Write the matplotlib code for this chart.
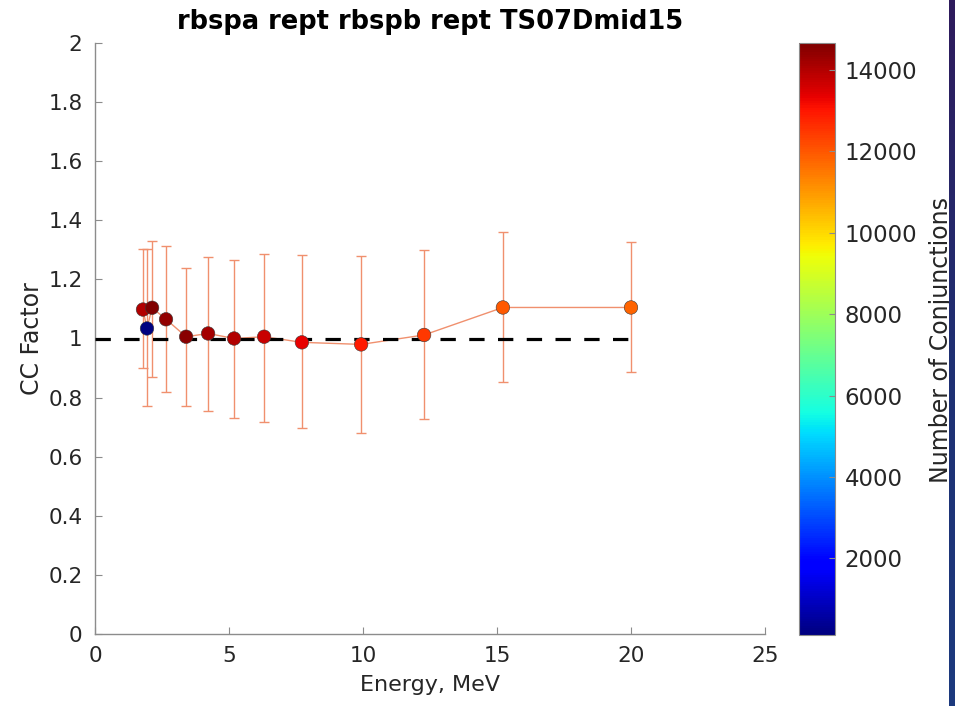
import numpy as np
import matplotlib
matplotlib.use("Agg")
import matplotlib.pyplot as plt
from matplotlib.colors import Normalize, LinearSegmentedColormap

# energies (MeV), cross-calibration factor, error bar limits, conjunction counts
energy = [1.79, 1.94, 2.13, 2.65, 3.40, 4.22, 5.19, 6.31, 7.72, 9.93, 12.28, 15.22, 20.0]
cc_factor = [1.098, 1.034, 1.104, 1.065, 1.006, 1.017, 1.000, 1.006, 0.987, 0.980, 1.012, 1.105, 1.105]
err_hi = [1.302, 1.302, 1.330, 1.314, 1.238, 1.276, 1.265, 1.285, 1.282, 1.280, 1.300, 1.360, 1.325]
err_lo = [0.900, 0.770, 0.871, 0.820, 0.772, 0.755, 0.731, 0.717, 0.697, 0.681, 0.728, 0.854, 0.887]
n_conj = [14000, 120, 14660, 14400, 14500, 14200, 14000, 13700, 13300, 12900, 12450, 11950, 11800]

title = "rbspa rept rbspb rept TS07Dmid15"

################################################################################

tick_col = "#262626"
spine_col = "#8c8c8c"
err_col = "#f0906e"

plt.rcParams["font.family"] = "DejaVu Sans"
fig = plt.figure(figsize=(9.55, 7.06), dpi=100)
ax = fig.add_axes([95/955, 72/706, 670/955, 591/706])

x = np.array(energy)
y = np.array(cc_factor)
yerr = [y - np.array(err_lo), np.array(err_hi) - y]

ax.errorbar(x, y, yerr=yerr, color=err_col, lw=1.0, elinewidth=1.0,
            capsize=3.5, capthick=1.0, zorder=2)
ax.plot([0, 20], [1, 1], color="black", lw=2.3, dashes=(4.8, 4.2), zorder=3)

norm = Normalize(vmin=120, vmax=14660)
sc = ax.scatter(x, y, c=n_conj, cmap="jet", norm=norm, s=95,
                edgecolors="#3a3a3a", linewidths=0.4, zorder=4)

ax.set_xlim(0, 25)
ax.set_ylim(0, 2)
ax.set_xticks(range(0, 26, 5))
yt = np.round(np.arange(0, 2.01, 0.2), 1)
ax.set_yticks(yt)
ax.set_yticklabels([("%g" % v) for v in yt])
for s in ["top", "right"]:
    ax.spines[s].set_visible(False)
for s in ["left", "bottom"]:
    ax.spines[s].set_color(spine_col)
    ax.spines[s].set_linewidth(1.0)
ax.tick_params(direction="in", length=5, color=spine_col, labelcolor=tick_col,
               labelsize=15.5, pad=9)
ax.set_xlabel("Energy, MeV", fontsize=16, color=tick_col, labelpad=6)
ax.set_ylabel("CC Factor", fontsize=17, color=tick_col, labelpad=3)
ax.set_title(title, fontsize=18.5, fontweight="bold", pad=10)

cax = fig.add_axes([799/955, 71/706, 36/955, 592/706])
cb = fig.colorbar(sc, cax=cax)
cb.set_ticks(range(2000, 14001, 2000))
cb.outline.set_edgecolor(spine_col)
cax.tick_params(direction="in", length=4, color=spine_col, labelcolor=tick_col,
                labelsize=16.5, pad=7)

fig.text(941/955, (706 - 340)/706, "Number of Conjunctions", rotation=90,
         ha="center", va="center", fontsize=17, color=tick_col)

# dark slide background strip on the right edge
sax = fig.add_axes([949/955, 0, 6/955, 1], zorder=10)
grad = np.linspace(0, 1, 256).reshape(-1, 1)
strip = LinearSegmentedColormap.from_list("strip", ["#2f1b5c", "#1f2f72", "#1c3a7e"])
sax.imshow(grad, aspect="auto", cmap=strip, extent=[0, 1, 0, 1], origin="upper")
sax.axis("off")

fig.savefig("out.png", dpi=100)
